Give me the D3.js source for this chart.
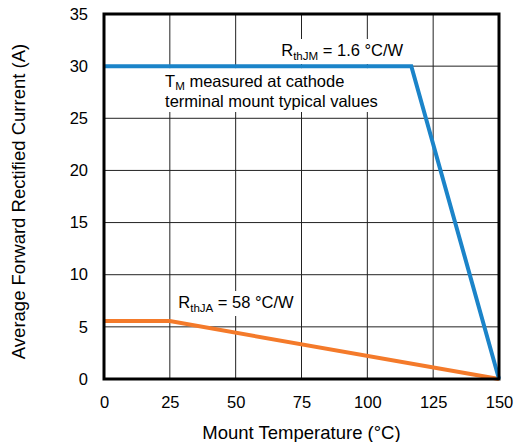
<!DOCTYPE html>
<html><head><meta charset="utf-8">
<script src="https://cdn.jsdelivr.net/npm/d3@7"></script>
<style>body{margin:0;background:#fff}svg{display:block;font-family:"Liberation Sans",Arial,sans-serif}</style>
</head><body><svg id="c" width="516" height="442"></svg>
<script>
const xTicks = [0,25,50,75,100,125,150];
const yTicks = [0,5,10,15,20,25,30,35];
const jmTemp = [0,116.7,150];
const jmCurrent = [30,30,0];
const jaTemp = [0,25,150];
const jaCurrent = [5.55,5.55,0];

const svg = d3.select("#c");
const m = {l:104,r:17,t:14,b:63};
const W = 516, H = 442;
const x = d3.scaleLinear().domain([0,150]).range([m.l, W-m.r]);
const y = d3.scaleLinear().domain([0,35]).range([H-m.b, m.t]);

// grid
const g = svg.append("g");
g.selectAll(".vg").data(xTicks).enter().append("line")
 .attr("x1",d=>x(d)).attr("x2",d=>x(d)).attr("y1",y(0)).attr("y2",y(35))
 .attr("stroke","#222").attr("stroke-width",1);
g.selectAll(".hg").data(yTicks).enter().append("line")
 .attr("x1",x(0)).attr("x2",x(150)).attr("y1",d=>y(d)).attr("y2",d=>y(d))
 .attr("stroke","#222").attr("stroke-width",1);

const FS = 16.5;
function label(px, py, main, sub, rest, dy){
  const t = svg.append("text").attr("x",px).attr("y",py).attr("font-size",FS).attr("fill","#000");
  t.append("tspan").text(main);
  t.append("tspan").text(sub).attr("font-size",FS*0.7).attr("dy",dy);
  t.append("tspan").text(rest).attr("dy",-dy);
  return t;
}
function boxBehind(t, pad){
  const b = t.node().getBBox();
  svg.insert("rect", "text").attr("x",b.x-pad).attr("y",b.y-pad/2).attr("width",b.width+2*pad).attr("height",b.height+pad)
   .attr("fill","#fff");
}

const l1 = label(x(67.3), 56, "R", "thJM", " = 1.6 °C/W", 4);
const l2 = label(x(23.2), 86.5, "T", "M", " measured at cathode", 3);
const l3 = svg.append("text").attr("x",x(23.2)).attr("y",107).attr("font-size",FS).text("terminal mount typical values");
const l4 = label(x(28.2), 308, "R", "thJA", " = 58 °C/W", 4);

[l1,l4].forEach(t=>boxBehind(t,4));
(function(){
  const b2=l2.node().getBBox(), b3=l3.node().getBBox();
  const x0=Math.min(b2.x,b3.x)-4, x1=Math.max(b2.x+b2.width,b3.x+b3.width)+4;
  svg.insert("rect","text").attr("x",x0).attr("y",y(30)+2).attr("width",x1-x0).attr("height",b3.y+b3.height-(y(30)+2)+2).attr("fill","#fff");
})();

// lines
const line = d3.line().x(d=>x(d[0])).y(d=>y(d[1]));
svg.append("path").datum(jaTemp.map((t,i)=>[t,jaCurrent[i]])).attr("d",line)
 .attr("fill","none").attr("stroke","#f47a2a").attr("stroke-width",4);
svg.append("path").datum(jmTemp.map((t,i)=>[t,jmCurrent[i]])).attr("d",line)
 .attr("fill","none").attr("stroke","#1b84c9").attr("stroke-width",4);

// frame
svg.append("rect").attr("x",x(0)).attr("y",y(35)).attr("width",x(150)-x(0)).attr("height",y(0)-y(35))
 .attr("fill","none").attr("stroke","#000").attr("stroke-width",3);

// axes
const xa = svg.append("g").attr("transform",`translate(0,${y(0)})`)
 .call(d3.axisBottom(x).tickValues(xTicks).tickSize(0).tickPadding(17));
const ya = svg.append("g").attr("transform",`translate(${x(0)},0)`)
 .call(d3.axisLeft(y).tickValues(yTicks).tickSize(0).tickPadding(16));
[xa,ya].forEach(a=>{a.select(".domain").remove(); a.selectAll("text").attr("font-size",16.5).attr("fill","#000").attr("font-family","Liberation Sans, Arial, sans-serif");});

svg.append("text").attr("x",(x(0)+x(150))/2).attr("y",439).attr("text-anchor","middle").attr("font-size",18.5).text("Mount Temperature (°C)");
svg.append("text").attr("transform",`translate(25,${(y(0)+y(35))/2+5}) rotate(-90)`).attr("text-anchor","middle").attr("font-size",18.5).text("Average Forward Rectified Current (A)");
</script></body></html>
